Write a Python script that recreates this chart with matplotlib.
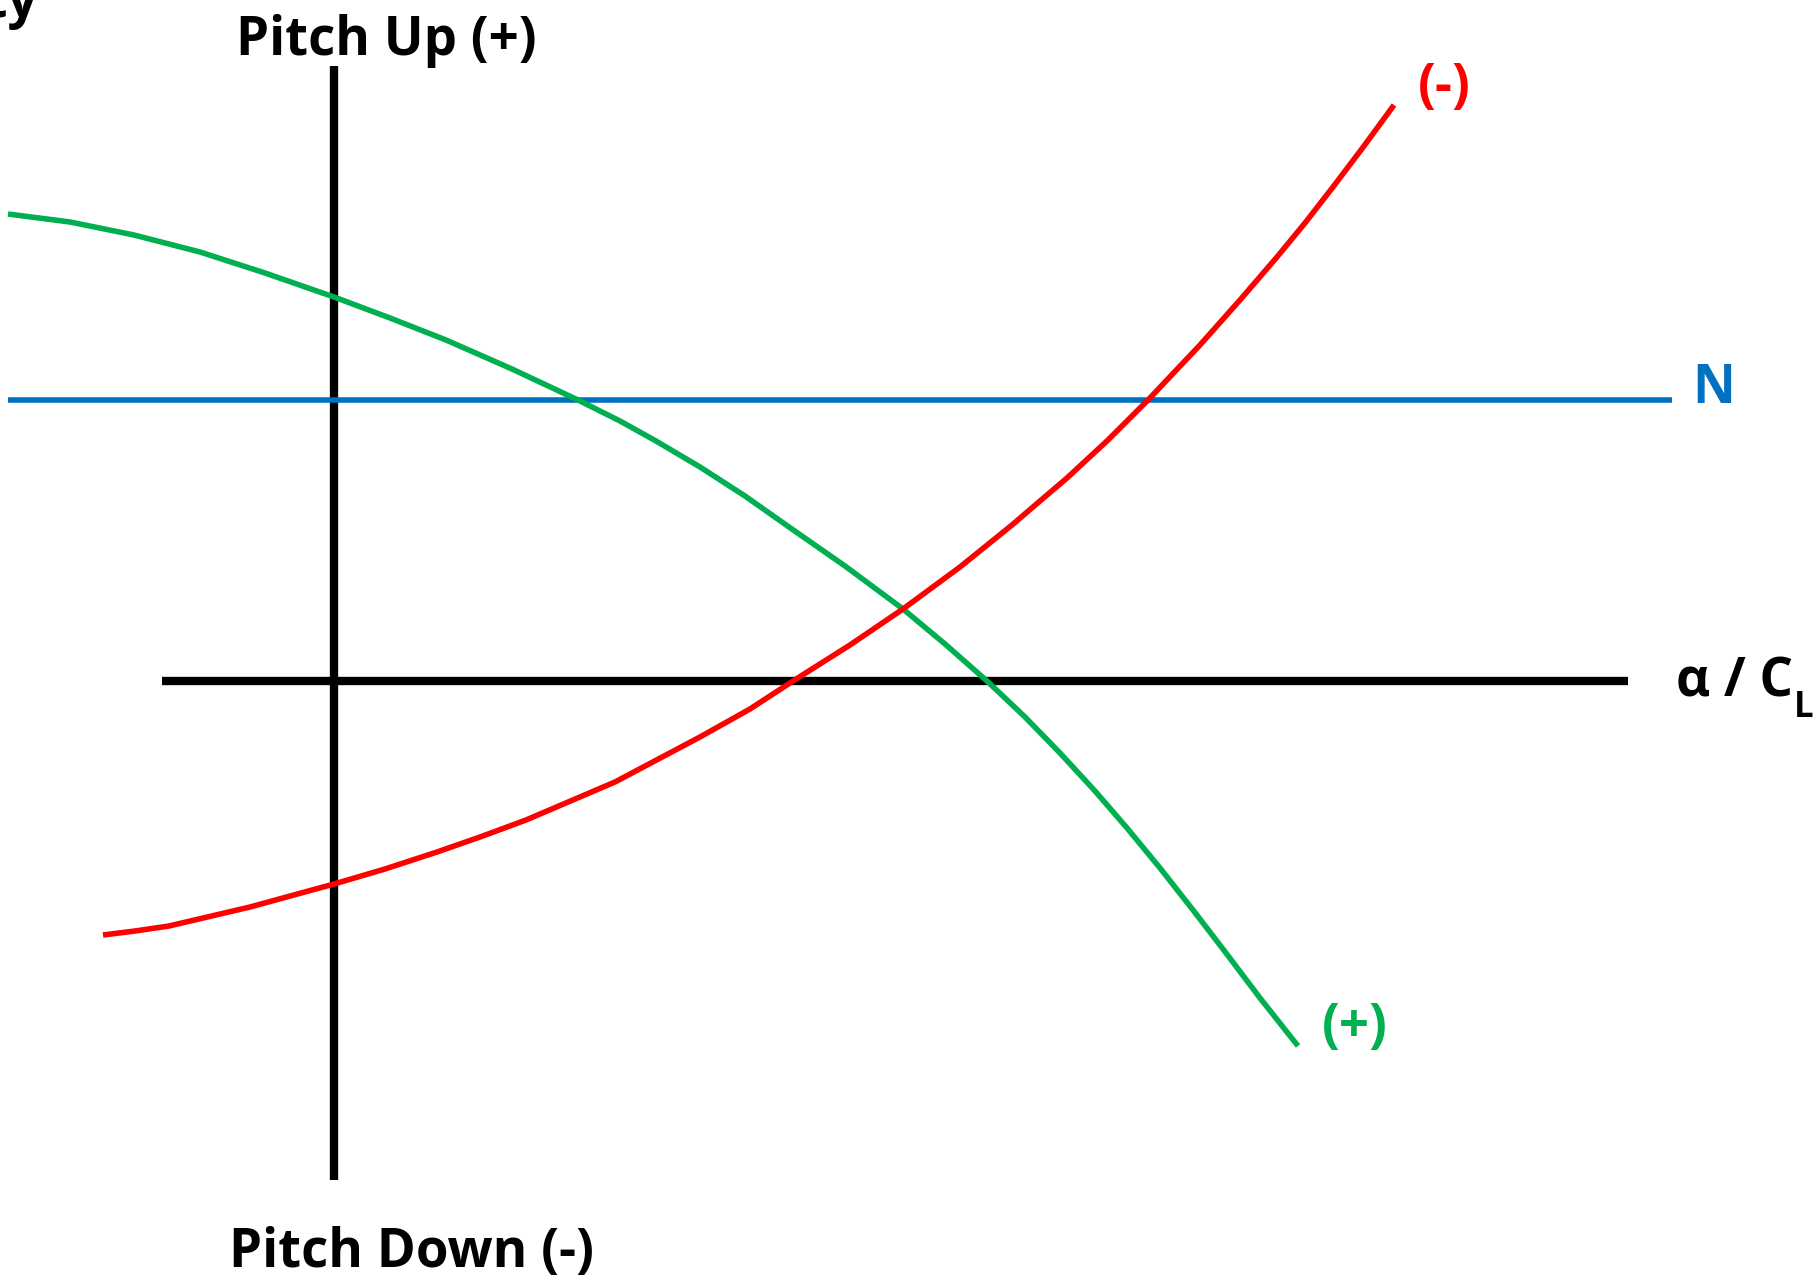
import matplotlib
matplotlib.use("Agg")
import matplotlib.pyplot as plt

plt.rcParams['font.family'] = ['Open Sans', 'DejaVu Sans']
plt.rcParams['font.weight'] = 'bold'

# schematic pitching-moment curves, alpha on x, moment on y (axis crossing = origin)
red_alpha = [-2.31, -1.99, -1.65, -0.84, 0.00, 0.51, 1.03, 1.46, 1.92, 2.81, 3.66, 4.16, 4.59,
             5.16, 5.69, 6.26, 6.78, 7.06, 7.33, 7.74, 8.14, 8.66, 9.06, 9.43, 9.71, 9.99, 10.30, 10.60]
red_cm = [-2.54, -2.50, -2.45, -2.26, -2.03, -1.88, -1.71, -1.56, -1.39, -1.01, -0.56, -0.28, 0.00,
          0.36, 0.72, 1.14, 1.56, 1.80, 2.03, 2.41, 2.81, 3.36, 3.81, 4.24, 4.58, 4.94, 5.35, 5.76]

green_alpha = [-3.26, -2.64, -2.00, -1.34, -0.69, 0.00, 0.56, 1.12, 1.78, 2.44, 2.86, 3.22, 3.66, 4.11,
               4.55, 5.11, 5.69, 6.11, 6.53, 6.91, 7.26, 7.61, 7.93, 8.26, 8.59, 8.92, 9.26, 9.64]
green_cm = [4.67, 4.59, 4.46, 4.29, 4.08, 3.84, 3.63, 3.41, 3.12, 2.81, 2.60, 2.40, 2.14, 1.85,
            1.54, 1.15, 0.72, 0.37, 0.00, -0.36, -0.72, -1.10, -1.47, -1.87, -2.29, -2.72, -3.17, -3.65]

neutral_cm = 2.81
neutral_span = [-3.26, 13.38]

x_axis_span = [-1.72, 12.94]
y_axis_span = [-4.99, 6.15]

RED = '#FF0000'
GREEN = '#00B050'
BLUE = '#0070C0'

fig = plt.figure(figsize=(18.19, 12.76), dpi=100)
ax = fig.add_axes([0, 0, 1, 1])
ax.set_xlim(-3.34, 14.85)
ax.set_ylim(-5.95, 6.81)
ax.axis('off')

# axes of the sketch
ax.plot(x_axis_span, [0, 0], color='black', lw=6, solid_capstyle='butt')
ax.plot([0, 0], y_axis_span, color='black', lw=6, solid_capstyle='butt')

# neutral line
ax.plot(neutral_span, [neutral_cm, neutral_cm], color=BLUE, lw=4, solid_capstyle='butt')

# curves
ax.plot(green_alpha, green_cm, color=GREEN, lw=4, solid_capstyle='butt', solid_joinstyle='round')
ax.plot(red_alpha, red_cm, color=RED, lw=4, solid_capstyle='butt', solid_joinstyle='round')

fs = 38
ax.text(0.52, 6.26, 'Pitch Up (+)', ha='center', va='baseline', fontsize=fs)
ax.text(0.77, -5.86, 'Pitch Down (-)', ha='center', va='baseline', fontsize=fs)
ax.text(-2.96, 6.64, 'Stability', ha='right', va='baseline', fontsize=fs)
ax.text(11.10, 5.93, '(-)', ha='center', va='center', fontsize=fs, color=RED)
ax.text(10.21, -3.47, '(+)', ha='center', va='center', fontsize=fs, color=GREEN)
ax.text(13.80, 2.92, 'N', ha='center', va='center', fontsize=fs, color=BLUE)
ax.text(13.42, -0.16, 'α / C', ha='left', va='baseline', fontsize=fs)
ax.text(14.60, -0.36, 'L', ha='left', va='baseline', fontsize=25)

fig.savefig('out.png', dpi=100)
